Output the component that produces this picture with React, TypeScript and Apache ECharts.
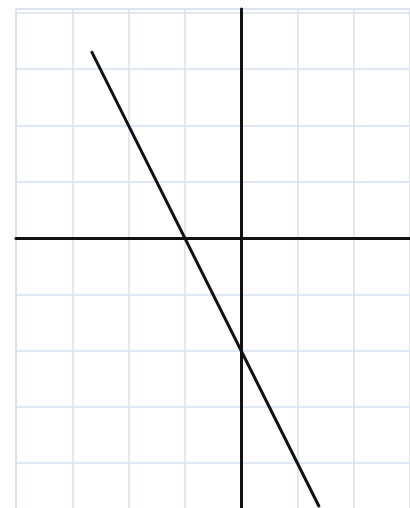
import React, { useEffect, useRef } from "react";
import * as echarts from "echarts";

// Line y = -2x - 2, drawn between these two points
const lineX = [-2.65, 1.38];
const lineY = [3.3, -4.76];

const xRange = [-4, 3];
const yRange = [-5, 4.07];

export default function App() {
  const ref = useRef<HTMLDivElement>(null);
  useEffect(() => {
    document.body.style.margin = "0";
    const chart = echarts.init(ref.current!, null, { renderer: "svg" });
    const unit = 394 / (xRange[1] - xRange[0]);
    const gridTop = 9;
    const gridHeight = (yRange[1] - yRange[0]) * unit;
    chart.setOption({
      animation: false,
      backgroundColor: "#ffffff",
      grid: {
        show: true,
        left: 16,
        width: 394,
        top: gridTop,
        height: gridHeight,
        outerBoundsMode: "none",
        containLabel: false,
        borderColor: "#d9dde2",
        borderWidth: 1,
        backgroundColor: "transparent",
      },
      xAxis: {
        type: "value",
        min: xRange[0],
        max: xRange[1],
        interval: 1,
        axisLine: { onZero: true, lineStyle: { color: "#111111", width: 3 } },
        axisTick: { show: false },
        axisLabel: { show: false },
        splitLine: { show: true, lineStyle: { color: "#d4e0f0", width: 1.5 } },
      },
      yAxis: {
        type: "value",
        min: yRange[0],
        max: yRange[1],
        interval: 1,
        axisLine: { onZero: true, lineStyle: { color: "#111111", width: 3 } },
        axisTick: { show: false },
        axisLabel: { show: false },
        splitLine: { show: true, lineStyle: { color: "#d4e0f0", width: 1.5 } },
      },
      series: [
        {
          type: "line",
          data: lineX.map((x, i) => [x, lineY[i]]),
          symbol: "none",
          lineStyle: { color: "#111111", width: 3, cap: "round" },
          z: 5,
        },
      ],
    });
    return () => chart.dispose();
  }, []);
  return (
    <div
      ref={ref}
      style={{ position: "absolute", left: 0, top: 0, width: 410, height: 508 }}
    />
  );
}
